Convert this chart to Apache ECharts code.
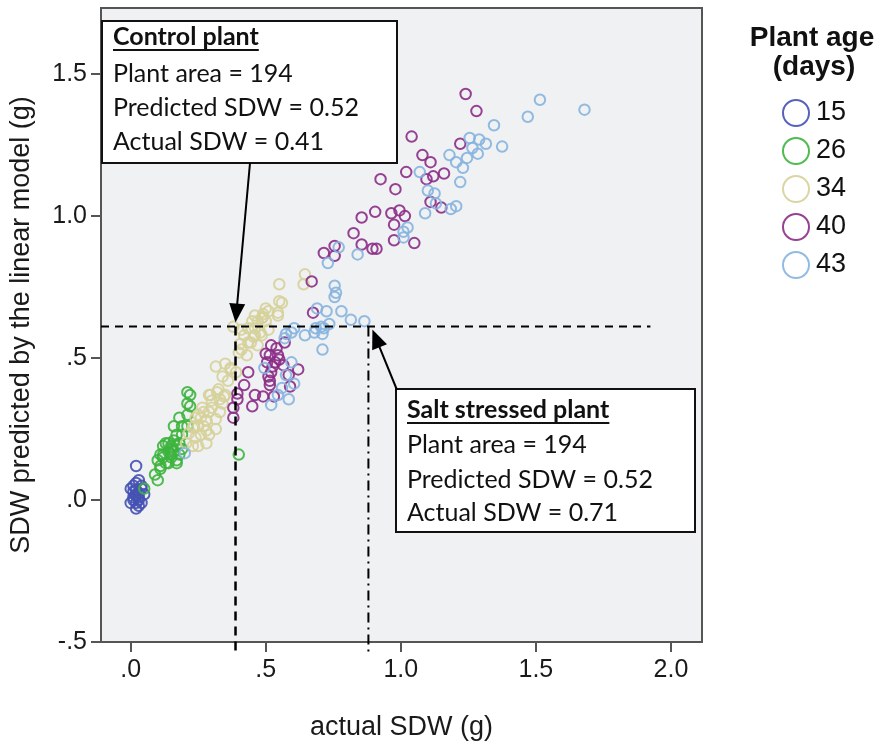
<!DOCTYPE html>
<html><head><meta charset="utf-8">
<script src="https://cdn.jsdelivr.net/npm/echarts@6/dist/echarts.min.js"></script>
<style>html,body{margin:0;padding:0;background:#fff}#main{width:885px;height:746px}</style>
</head><body><div id="main"></div>
<script>
// ---- data ----
const ages = ['15','26','34','40','43'];
const xTickValues = [0, 0.5, 1, 1.5, 2];
const xTickLabels = ['.0', '.5', '1.0', '1.5', '2.0'];
const yTickValues = [-0.5, 0, 0.5, 1, 1.5];
const yTickLabels = ['-.5', '.0', '.5', '1.0', '1.5'];

const age15 = [[0.02,0.12],[0.02,0.06],[0.03,0.07],[0.00,0.04],[0.02,0.02],[0.04,0.04],[0.01,0.01],[0.03,0.01],[0.05,0.02],[0.00,-0.01],[0.02,-0.01],[0.02,-0.03],[0.03,-0.02],[0.01,0.05],[0.04,0.05],[0.02,0.035],[0.03,0.025],[0.01,0.00],[0.03,0.00],[0.02,0.015],[0.04,-0.01],[0.01,0.03]];
const age26 = [[0.05,0.04],[0.10,0.07],[0.09,0.09],[0.11,0.11],[0.10,0.14],[0.13,0.13],[0.11,0.16],[0.14,0.17],[0.16,0.17],[0.12,0.19],[0.15,0.19],[0.17,0.19],[0.13,0.20],[0.16,0.21],[0.18,0.20],[0.19,0.18],[0.17,0.14],[0.15,0.15],[0.17,0.23],[0.19,0.23],[0.16,0.26],[0.19,0.26],[0.21,0.26],[0.18,0.29],[0.21,0.30],[0.22,0.33],[0.21,0.34],[0.22,0.37],[0.17,0.13],[0.14,0.13],[0.40,0.16],[0.12,0.16],[0.15,0.18],[0.14,0.20],[0.12,0.15],[0.21,0.38],[0.11,0.12],[0.15,0.16],[0.18,0.16]];
const age34 = [[0.24,0.22],[0.235,0.26],[0.27,0.26],[0.26,0.23],[0.29,0.23],[0.23,0.19],[0.205,0.20],[0.25,0.19],[0.28,0.20],[0.315,0.25],[0.315,0.285],[0.28,0.28],[0.30,0.325],[0.34,0.34],[0.33,0.355],[0.35,0.37],[0.27,0.31],[0.26,0.29],[0.29,0.37],[0.30,0.35],[0.265,0.325],[0.29,0.31],[0.33,0.31],[0.25,0.30],[0.32,0.38],[0.345,0.365],[0.315,0.47],[0.35,0.48],[0.37,0.46],[0.39,0.45],[0.34,0.435],[0.36,0.42],[0.38,0.61],[0.41,0.60],[0.42,0.58],[0.455,0.575],[0.485,0.58],[0.405,0.55],[0.445,0.555],[0.47,0.545],[0.41,0.53],[0.43,0.51],[0.55,0.70],[0.545,0.66],[0.49,0.645],[0.47,0.63],[0.51,0.665],[0.50,0.63],[0.46,0.605],[0.435,0.605],[0.40,0.52],[0.645,0.795],[0.64,0.76],[0.55,0.76],[0.49,0.655],[0.46,0.65],[0.56,0.695],[0.45,0.63],[0.485,0.64],[0.50,0.675],[0.545,0.65],[0.46,0.58],[0.435,0.555],[0.48,0.59],[0.51,0.60],[0.23,0.255],[0.215,0.235],[0.28,0.245],[0.25,0.26],[0.28,0.28],[0.24,0.29],[0.295,0.37],[0.325,0.39],[0.37,0.465]];
const age40 = [[1.24,1.43],[1.28,1.37],[1.04,1.28],[1.22,1.255],[1.08,1.215],[1.11,1.19],[1.02,1.155],[1.16,1.15],[1.12,1.14],[1.095,1.13],[0.925,1.13],[0.98,1.095],[1.11,1.05],[1.15,1.03],[0.905,1.015],[0.855,0.995],[0.965,1.01],[0.995,1.02],[1.015,1.00],[0.975,0.97],[0.825,0.94],[0.975,0.915],[1.05,0.905],[0.855,0.90],[0.895,0.885],[0.91,0.885],[0.755,0.895],[0.715,0.87],[0.755,0.86],[0.67,0.77],[0.675,0.66],[0.52,0.545],[0.54,0.535],[0.57,0.555],[0.515,0.51],[0.545,0.51],[0.535,0.485],[0.565,0.475],[0.52,0.45],[0.51,0.435],[0.585,0.44],[0.62,0.46],[0.435,0.45],[0.515,0.405],[0.46,0.37],[0.49,0.365],[0.45,0.33],[0.53,0.365],[0.515,0.42],[0.42,0.405],[0.395,0.375],[0.395,0.355],[0.38,0.325],[0.38,0.29],[0.50,0.515],[0.525,0.47],[0.55,0.495],[0.505,0.485],[0.59,0.40]];
const age43 = [[1.515,1.41],[1.47,1.35],[1.345,1.32],[1.68,1.375],[1.255,1.275],[1.29,1.27],[1.315,1.255],[1.375,1.245],[1.18,1.215],[1.245,1.205],[1.285,1.22],[1.205,1.19],[1.07,1.155],[1.22,1.12],[1.10,1.09],[1.125,1.08],[1.09,1.01],[1.185,1.025],[1.205,1.035],[1.01,0.945],[1.01,0.925],[0.84,0.865],[1.265,1.24],[1.23,1.17],[1.13,1.045],[1.025,0.96],[0.77,0.89],[0.73,0.835],[0.755,0.755],[0.76,0.73],[0.755,0.715],[0.69,0.675],[0.725,0.665],[0.78,0.665],[0.815,0.635],[0.865,0.63],[0.685,0.605],[0.645,0.58],[0.605,0.605],[0.575,0.585],[0.715,0.605],[0.71,0.53],[0.595,0.485],[0.575,0.44],[0.605,0.41],[0.56,0.395],[0.585,0.355],[0.52,0.335],[0.495,0.465],[0.545,0.37],[0.595,0.59],[0.57,0.57],[0.20,0.165],[0.705,0.61],[0.735,0.62],[0.68,0.59],[0.71,0.585]];

// reference lines (data units)
const refY = 0.611;
const refXEnd = 1.924;
const controlX = 0.388;
const saltX = 0.88;

const controlText = ['Control plant', 'Plant area = 194', 'Predicted SDW = 0.52', 'Actual SDW = 0.41'];
const saltText = ['Salt stressed plant', 'Plant area = 194', 'Predicted SDW = 0.52', 'Actual SDW = 0.71'];

// ---- style ----
const colors = ['#4552b4', '#3db43d', '#d6d29a', '#8b2c87', '#86b4df'];
const seriesData = [age15, age26, age34, age40, age43];
const X_MIN = -0.11, X_MAX = 2.115, Y_MIN = -0.5, Y_MAX = 1.733;
const tickFont = 'Liberation Sans';

const chart = echarts.init(document.getElementById('main'));
chart.setOption({
  animation: false,
  backgroundColor: '#fff',
  grid: { left: 95, right: 183, top: 8, bottom: 95, show: true, backgroundColor: '#f0f1f3', borderColor: '#555', borderWidth: 2 },
  xAxis: {
    type: 'value', min: X_MIN, max: X_MAX,
    name: 'actual SDW (g)', nameLocation: 'middle', nameGap: 72,
    nameTextStyle: { fontFamily: tickFont, fontSize: 27, color: '#1a1a1a' },
    splitLine: { show: false },
    axisLine: { show: true, onZero: false, lineStyle: { color: '#555', width: 2 } },
    axisTick: { show: true, length: 10, lineStyle: { color: '#555', width: 2 }, customValues: xTickValues },
    axisLabel: { customValues: xTickValues, margin: 16, fontFamily: tickFont, fontSize: 25, color: '#1a1a1a',
      formatter: v => { const i = xTickValues.findIndex(t => Math.abs(t - v) < 1e-9); return i >= 0 ? xTickLabels[i] : ''; } }
  },
  yAxis: {
    type: 'value', min: Y_MIN, max: Y_MAX,
    name: 'SDW predicted by the linear model (g)', nameLocation: 'middle', nameGap: 66, nameRotate: 90,
    nameTextStyle: { fontFamily: tickFont, fontSize: 27, color: '#1a1a1a' },
    splitLine: { show: false },
    axisLine: { show: true, onZero: false, lineStyle: { color: '#555', width: 2 } },
    axisTick: { show: true, length: 10, lineStyle: { color: '#555', width: 2 }, customValues: yTickValues },
    axisLabel: { customValues: yTickValues, margin: 14, fontFamily: tickFont, fontSize: 25, color: '#1a1a1a',
      formatter: v => { const i = yTickValues.findIndex(t => Math.abs(t - v) < 1e-9); return i >= 0 ? yTickLabels[i] : ''; } }
  },
  legend: {
    orient: 'vertical', left: 782, top: 99, padding: 0, itemGap: 10,
    itemWidth: 26, itemHeight: 26, icon: 'circle',
    data: ages,
    textStyle: { fontFamily: tickFont, fontSize: 27, color: '#111', padding: [0, 0, 0, 2] }
  },
  series: ages.map((a, i) => ({
    name: a, type: 'scatter', data: seriesData[i],
    symbol: 'circle', symbolSize: 10.5,
    itemStyle: { color: 'rgba(0,0,0,0)', borderColor: colors[i], borderWidth: 2, opacity: 0.9 },
    emphasis: { disabled: true }
  }))
});

function px(x, y) { return chart.convertToPixel({ gridIndex: 0 }, [x, y]); }

const measureCtx = document.createElement('canvas').getContext('2d');
function textWidth(t, font) { measureCtx.font = font; return measureCtx.measureText(t).width; }

function arrow(s, t, headLen, headHalf) {
  const dx = t[0] - s[0], dy = t[1] - s[1];
  const L = Math.sqrt(dx * dx + dy * dy);
  const ux = dx / L, uy = dy / L;
  const bx = t[0] - ux * headLen, by = t[1] - uy * headLen;
  return [
    { type: 'line', z: 100, shape: { x1: s[0], y1: s[1], x2: bx + ux * 2, y2: by + uy * 2 }, style: { stroke: '#000', lineWidth: 2 } },
    { type: 'polygon', z: 100, shape: { points: [[t[0], t[1]], [bx - uy * headHalf, by + ux * headHalf], [bx + uy * headHalf, by - ux * headHalf]] }, style: { fill: '#000' } }
  ];
}

function box(x, y, w, h, lines, lineY) {
  const els = [{ type: 'rect', z: 100, shape: { x: x, y: y, width: w, height: h }, style: { fill: '#fff', stroke: '#111', lineWidth: 2 } }];
  lines.forEach((t, i) => {
    const font = (i === 0 ? 'bold ' : '') + '25px Lato';
    els.push({ type: 'text', z: 101, style: { text: t, x: x + 11, y: lineY[i], fill: '#111', verticalAlign: 'middle', font: font } });
  });
  const tw = textWidth(lines[0], 'bold 25px Lato');
  els.push({ type: 'line', z: 101, shape: { x1: x + 11, y1: lineY[0] + 13, x2: x + 11 + tw, y2: lineY[0] + 13 }, style: { stroke: '#111', lineWidth: 2 } });
  return els;
}

const gL = px(X_MIN, refY), gE = px(refXEnd, refY);
const pc = px(controlX, refY), pcB = px(controlX, -0.54);
const ps = px(saltX, refY), psB = px(saltX, -0.54);

const graphics = [
  { type: 'line', z: 99, shape: { x1: gL[0], y1: gL[1], x2: gE[0], y2: gE[1] }, style: { stroke: '#000', lineWidth: 2, lineDash: [8, 6] } },
  { type: 'line', z: 99, shape: { x1: pc[0], y1: pc[1], x2: pcB[0], y2: pcB[1] }, style: { stroke: '#000', lineWidth: 2.5, lineDash: [9, 6] } },
  { type: 'line', z: 99, shape: { x1: ps[0], y1: ps[1], x2: psB[0], y2: psB[1] }, style: { stroke: '#000', lineWidth: 2, lineDash: [10, 5, 2, 5] } },
  ...box(102, 21, 295, 142, controlText, [37, 74, 108, 142]),
  ...box(396, 389, 299, 143, saltText, [410, 445, 480, 513]),
  ...arrow([250, 163], [pc[0], pc[1] - 4], 19, 8),
  ...arrow([397, 390], [ps[0] + 4, ps[1] + 3], 19, 8),
  { type: 'text', z: 101, style: { text: 'Plant age', x: 812, y: 38, align: 'center', verticalAlign: 'middle', font: 'bold 28px "Liberation Sans"', fill: '#111' } },
  { type: 'text', z: 101, style: { text: '(days)', x: 814, y: 67, align: 'center', verticalAlign: 'middle', font: 'bold 28px "Liberation Sans"', fill: '#111' } }
];
chart.setOption({ graphic: graphics });
</script></body></html>
